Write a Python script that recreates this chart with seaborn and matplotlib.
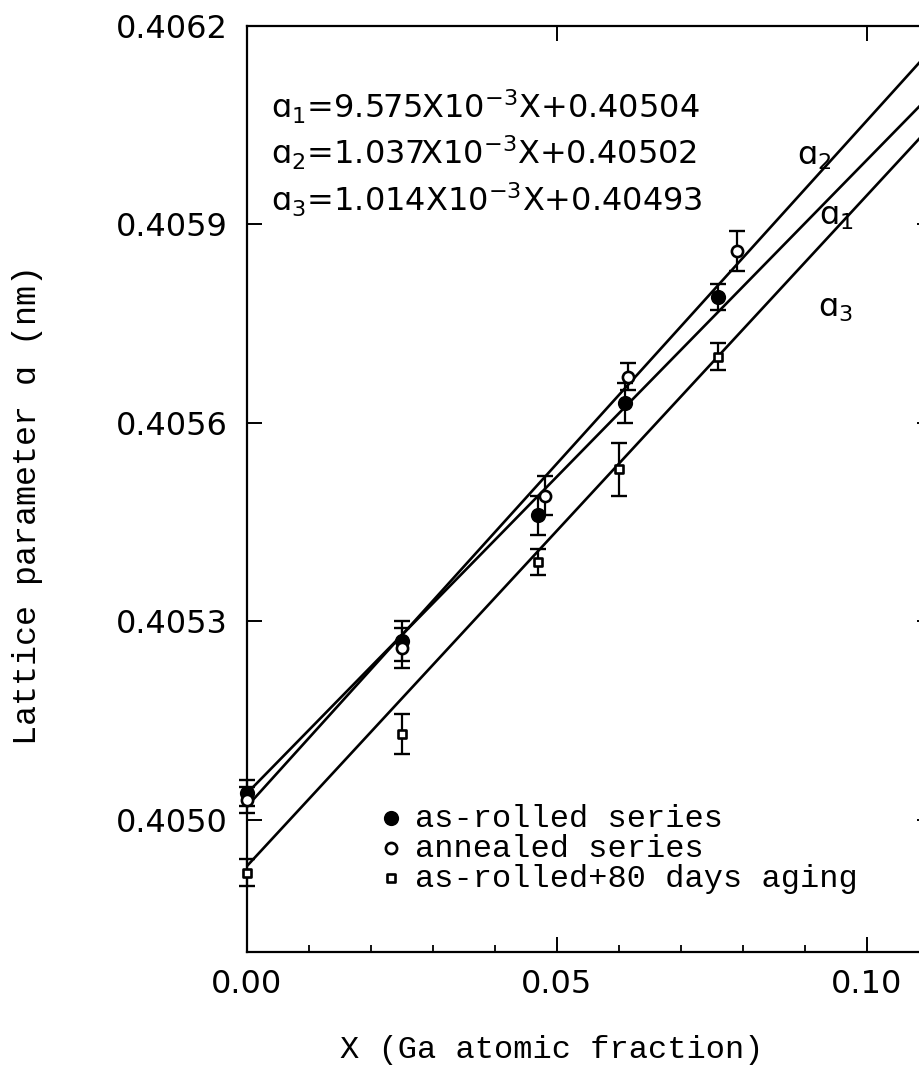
import matplotlib
matplotlib.use("Agg")
import matplotlib.pyplot as plt
import seaborn as sns
from matplotlib.ticker import MultipleLocator, FixedLocator

# as-rolled series (filled circles)
x_rolled = [0.0, 0.025, 0.047, 0.061, 0.076]
a_rolled = [0.40504, 0.40527, 0.40546, 0.40563, 0.40579]
e_rolled = [0.00002, 0.00003, 0.00003, 0.00003, 0.00002]

# annealed series (open circles)
x_annealed = [0.0, 0.025, 0.048, 0.0615, 0.079]
a_annealed = [0.40503, 0.40526, 0.40549, 0.40567, 0.40586]
e_annealed = [0.00002, 0.00003, 0.00003, 0.00002, 0.00003]

# as-rolled + 80 days aging (open squares)
x_aged = [0.0, 0.025, 0.047, 0.060, 0.076]
a_aged = [0.40492, 0.40513, 0.40539, 0.40553, 0.40570]
e_aged = [0.00002, 0.00003, 0.00002, 0.00004, 0.00002]

# fitted lines a1, a2, a3
fit_names = ["1", "2", "3"]
fit_slopes = [9.575e-3, 1.037e-2, 1.014e-2]
fit_intercepts = [0.40504, 0.40502, 0.40493]
fit_texts = ["9.575", "1.037", "1.014"]

y_ticks = [0.4050, 0.4053, 0.4056, 0.4059, 0.4062]
x_ticks = [0.00, 0.05, 0.10]

MONO = ["Liberation Mono", "DejaVu Sans Mono"]

sns.set_style("ticks")
plt.rcParams["font.family"] = ["DejaVu Sans"]
plt.rcParams["mathtext.fontset"] = "dejavusans"
for key in ["text.color", "axes.labelcolor", "xtick.color", "ytick.color"]:
    plt.rcParams[key] = "black"

fig = plt.figure(figsize=(9.2, 10.8), dpi=100)
# axes runs a little past the right edge of the figure, as in the scan
ax = fig.add_axes([247 / 920, 128 / 1080, 685 / 920, 926 / 1080])

# fit lines
for m, b in zip(fit_slopes, fit_intercepts):
    ax.axline((0, b), slope=m, color="black", lw=1.9, zorder=2)

# error bars
for xs, ys, es in [(x_rolled, a_rolled, e_rolled),
                   (x_annealed, a_annealed, e_annealed),
                   (x_aged, a_aged, e_aged)]:
    ax.errorbar(xs, ys, yerr=es, fmt="none", ecolor="black", elinewidth=1.6,
                capsize=5.5, capthick=1.7, zorder=3, clip_on=False)

sns.scatterplot(x=x_rolled, y=a_rolled, ax=ax, marker="o", s=95,
                color="black", edgecolor="black", linewidth=1.2,
                label="as-rolled series", zorder=4, clip_on=False)
sns.scatterplot(x=x_annealed, y=a_annealed, ax=ax, marker="o", s=65,
                color="white", edgecolor="black", linewidth=1.9,
                label="annealed series", zorder=4, clip_on=False)
sns.scatterplot(x=x_aged, y=a_aged, ax=ax, marker="s", s=40,
                color="white", edgecolor="black", linewidth=1.9,
                label="as-rolled+80 days aging", zorder=4, clip_on=False)

ax.set_xlim(0, 0.1105)
ax.set_ylim(0.4048, 0.4062)

ax.xaxis.set_major_locator(FixedLocator(x_ticks))
ax.xaxis.set_minor_locator(MultipleLocator(0.01))
ax.yaxis.set_major_locator(FixedLocator(y_ticks))
ax.set_xticklabels([f"{v:.2f}" for v in x_ticks])
ax.set_yticklabels([f"{v:.4f}" for v in y_ticks])
ax.tick_params(axis="both", which="major", direction="in", length=11,
               width=1.4, labelsize=23, top=True, right=True, color="black")
ax.tick_params(axis="x", which="major", pad=12)
ax.tick_params(axis="y", which="major", pad=14)
ax.tick_params(axis="x", which="minor", direction="in", length=5,
               width=1.3, top=False)
for sp in ax.spines.values():
    sp.set_linewidth(1.6)
    sp.set_color("black")

ax.set_xlabel("X (Ga atomic fraction)", family=MONO, fontsize=23)
ax.xaxis.set_label_coords(0.445, -0.09)
ax.set_ylabel("Lattice parameter \u0251 (nm)", family=MONO, fontsize=24)
ax.yaxis.set_label_coords(-0.298, 0.483)

# fit equations
for i, (n, s, b) in enumerate(zip(fit_names, fit_texts, fit_intercepts)):
    ax.text(0.0039, 0.40606 - i * 0.00007,
            "\u0251$_{%s}$=%sX10$^{-3}$X+%.5f" % (n, s, b),
            fontsize=23, ha="left", va="baseline")

# line labels
ax.text(0.0887, 0.40599, "\u0251$_2$", fontsize=23, ha="left", va="baseline")
ax.text(0.0923, 0.40590, "\u0251$_1$", fontsize=23, ha="left", va="baseline")
ax.text(0.0921, 0.40576, "\u0251$_3$", fontsize=23, ha="left", va="baseline")

leg = ax.legend(loc="upper left", bbox_to_anchor=(0.196, 0.16), frameon=False,
                prop={"family": MONO, "size": 23}, handlelength=0.6,
                handletextpad=0.45, borderpad=0, borderaxespad=0,
                labelspacing=0.0)

fig.savefig("out.png", dpi=100)
plt.close(fig)
